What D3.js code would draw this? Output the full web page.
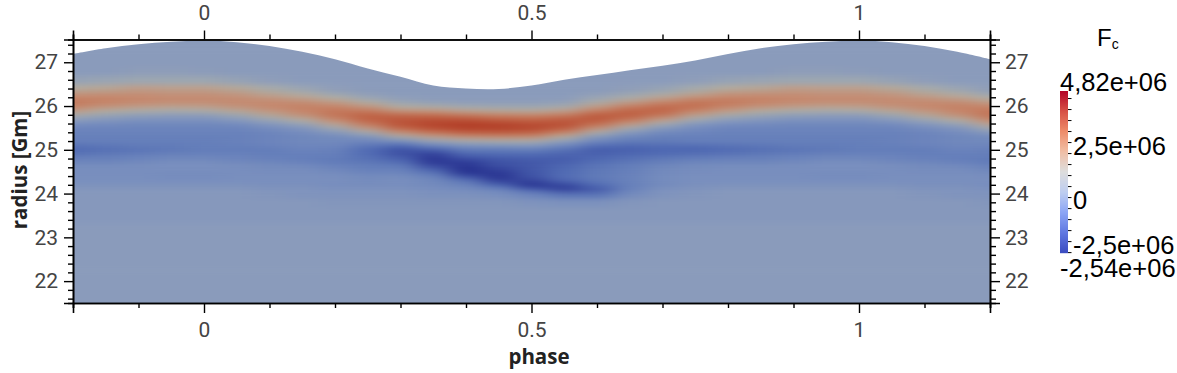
<!DOCTYPE html>
<html>
<head>
<meta charset="utf-8">
<script src="https://cdnjs.cloudflare.com/ajax/libs/d3/7.8.5/d3.min.js"></script>
<style>
    body { margin: 0; background: #fff; }
    svg { display: block; }
    .ticklabels text { font-family: Roboto, sans-serif; font-size: 21px; fill: #444; }
    .title { font-family: "Open Sans", sans-serif; font-size: 20.5px; font-weight: bold; fill: #222; }
    .cblabel { font-family: "Liberation Sans", sans-serif; font-size: 25.5px; fill: #000; }
</style>
</head>
<body>
<div id="chart"></div>
<script>
//phases of the folded data, one period
const phases = [0,0.05,0.1,0.15,0.2,0.25,0.3,0.35,0.4,0.45,0.5,0.55,0.6,0.65,0.7,0.75,0.8,0.85,0.9,0.95];

//outer radius of the star at each phase [Gm]
const surface = [27.49,27.46,27.37,27.24,27.07,26.86,26.67,26.47,26.40,26.39,26.47,26.60,26.71,26.82,26.92,27.04,27.19,27.32,27.41,27.47];

//radius of each row of the Fc table [Gm]
const radii = [21.5,23.0,23.6,23.8,24.0,24.1,24.2,24.3,24.4,24.5,24.6,24.7,24.8,24.9,25.0,25.1,25.2,25.3,25.4,25.5,25.6,25.7,25.8,25.9,26.0,26.1,26.2,26.3,26.4,26.6,26.8,27.0,27.6];

//Fc in units of 1e6, one list per phase, rows follow radii
const fc = [
    [0,0,-0.1,-0.1,-0.1,-0.2,-0.3,-0.5,-0.6,-0.5,-0.5,-0.5,-0.7,-0.9,-1.0,-1.0,-1.0,-0.9,-0.9,-0.8,-0.7,-0.4,0.1,0.9,1.7,2.3,2.4,2.1,1.6,0.5,0.05,0,0],
    [0,0,-0.1,-0.1,-0.1,-0.2,-0.3,-0.5,-0.5,-0.5,-0.5,-0.6,-0.8,-0.9,-1.0,-1.0,-0.9,-0.9,-0.9,-0.8,-0.6,-0.1,0.5,1.4,2.1,2.4,2.3,1.9,1.3,0.3,0,0,0],
    [0,0,-0.1,-0.1,-0.2,-0.3,-0.4,-0.5,-0.5,-0.5,-0.6,-0.7,-0.9,-1.0,-1.0,-0.9,-0.8,-0.8,-0.8,-0.6,-0.2,0.4,1.3,2.0,2.5,2.4,2.0,1.4,0.8,0.1,0,0,0],
    [0,0,-0.1,-0.1,-0.3,-0.3,-0.4,-0.5,-0.5,-0.5,-0.6,-0.8,-1.0,-1.0,-0.8,-0.8,-0.7,-0.7,-0.6,-0.3,0.3,1.2,2.1,2.6,2.7,2.3,1.6,1.0,0.4,0,0,0,0],
    [0,0,-0.1,-0.2,-0.3,-0.4,-0.5,-0.5,-0.5,-0.6,-0.8,-1.0,-1.1,-1.0,-0.9,-0.8,-0.7,-0.6,-0.2,0.5,1.5,2.5,3.0,3.0,2.6,1.8,1.1,0.4,0.1,0,0,0,0],
    [0,0,-0.1,-0.2,-0.3,-0.4,-0.5,-0.6,-0.6,-0.8,-1.0,-1.1,-1.3,-1.4,-1.4,-1.2,-0.8,-0.3,0.6,1.9,2.9,3.6,3.5,2.9,2.0,1.1,0.4,0.1,0,0,0,0,0],
    [0,0,-0.1,-0.2,-0.3,-0.4,-0.5,-0.5,-0.6,-0.8,-1.0,-1.3,-1.6,-1.9,-1.9,-1.5,-0.6,0.7,2.1,3.4,4.1,4.0,3.3,2.1,1.1,0.4,0.1,0,0,0,0,0,0],
    [0,0,-0.1,-0.2,-0.4,-0.5,-0.6,-0.7,-0.9,-1.3,-1.8,-2.3,-2.4,-2.3,-1.7,-0.9,0.2,1.5,3.0,4.2,4.6,4.2,3.2,2.0,0.9,0.2,0,0,0,0,0,0,0],
    [0,0,-0.1,-0.2,-0.4,-0.6,-0.8,-1.2,-1.9,-2.5,-2.5,-2.4,-2.0,-1.6,-1.1,-0.5,0.6,2.0,3.6,4.6,4.8,4.1,2.9,1.6,0.6,0.1,0,0,0,0,0,0,0],
    [0,0,-0.1,-0.2,-0.5,-0.8,-1.5,-2.2,-2.5,-2.3,-2.1,-1.9,-1.8,-1.5,-1.1,-0.4,0.7,2.2,3.7,4.6,4.6,3.7,2.6,1.4,0.5,0.1,0,0,0,0,0,0,0],
    [0,0,-0.1,-0.3,-0.8,-1.6,-2.4,-2.2,-1.9,-1.8,-1.8,-1.8,-1.7,-1.5,-1.0,-0.3,0.7,2.1,3.5,4.4,4.3,3.5,2.5,1.3,0.5,0.1,0,0,0,0,0,0,0],
    [0,0,-0.1,-0.4,-1.2,-2.2,-2.1,-1.6,-1.4,-1.4,-1.5,-1.6,-1.7,-1.6,-1.3,-0.8,0,1.1,2.5,3.7,4.2,3.8,2.8,1.7,0.7,0.2,0,0,0,0,0,0,0],
    [0,0,-0.1,-0.4,-1.2,-1.8,-1.4,-1.2,-1.1,-1.1,-1.2,-1.3,-1.5,-1.6,-1.7,-1.4,-0.8,-0.2,0.8,2.1,3.2,3.9,3.7,2.8,1.8,0.9,0.4,0.1,0,0,0,0,0],
    [0,0,-0.1,-0.2,-0.6,-0.9,-0.9,-0.9,-0.9,-0.9,-1.0,-1.1,-1.3,-1.5,-1.6,-1.5,-1.1,-0.7,-0.2,0.6,1.9,3.0,3.6,3.5,2.8,1.7,0.9,0.4,0.1,0,0,0,0],
    [0,0,-0.1,-0.1,-0.3,-0.4,-0.6,-0.6,-0.6,-0.6,-0.7,-0.9,-1.1,-1.4,-1.5,-1.4,-1.1,-0.9,-0.7,-0.2,0.6,1.8,2.9,3.5,3.3,2.5,1.6,0.8,0.3,0,0,0,0],
    [0,0,-0.1,-0.1,-0.2,-0.3,-0.4,-0.5,-0.5,-0.5,-0.6,-0.7,-1.0,-1.3,-1.5,-1.4,-1.0,-0.9,-0.8,-0.6,-0.2,0.6,1.6,2.6,3.2,3.0,2.3,1.4,0.7,0.1,0,0,0],
    [0,0,-0.1,-0.1,-0.1,-0.2,-0.3,-0.5,-0.5,-0.5,-0.5,-0.7,-0.9,-1.2,-1.4,-1.3,-1.0,-0.9,-0.9,-0.8,-0.5,0,0.8,1.8,2.6,2.9,2.6,2.0,1.2,0.3,0,0,0],
    [0,0,-0.1,-0.1,-0.1,-0.2,-0.3,-0.5,-0.5,-0.5,-0.5,-0.7,-0.9,-1.1,-1.3,-1.2,-1.0,-0.9,-0.9,-0.8,-0.6,-0.2,0.4,1.2,2.1,2.6,2.6,2.1,1.4,0.4,0,0,0],
    [0,0,-0.1,-0.1,-0.1,-0.2,-0.3,-0.5,-0.5,-0.5,-0.5,-0.6,-0.8,-1.0,-1.2,-1.1,-1.0,-0.9,-0.9,-0.8,-0.7,-0.4,0.2,0.9,1.8,2.4,2.5,2.2,1.7,0.5,0.1,0,0],
    [0,0,-0.1,-0.1,-0.1,-0.2,-0.3,-0.5,-0.6,-0.5,-0.5,-0.5,-0.7,-0.9,-1.1,-1.1,-1.0,-0.9,-0.9,-0.8,-0.7,-0.4,0.1,0.8,1.6,2.3,2.4,2.1,1.6,0.5,0.1,0,0]
];

//tick values
const phaseMajor = [0,0.5,1];
const phaseMinor = [-0.2,-0.1,0.1,0.2,0.3,0.4,0.6,0.7,0.8,0.9,1.1,1.2];
const radiusMajor = [22,23,24,25,26,27];
const radiusMinor = [21.6,21.8,22.2,22.4,22.6,22.8,23.2,23.4,23.6,23.8,24.2,24.4,24.6,24.8,25.2,25.4,25.6,25.8,26.2,26.4,26.6,26.8,27.2,27.4];
const fcTicks = [-2.5,-2,-1.5,-1,-0.5,0,0.5,1,1.5,2,2.5,3,3.5,4,4.5];

//legend range and labels
const fcMin = -2.54;
const fcMax = 4.82;
const cbLabels = ["4,82e+06","2,5e+06","0","-2,5e+06","-2,54e+06"];

//colors of the shaded surface
const fieldValues = [-2.54,-2,-1.5,-1,-0.5,0,0.6,1.1,1.8,2.5,3.5,4.82];
const fieldColors = ["#26308f","#3a4ca2","#4e68b2","#647eba","#788ebe","#8a9bbb","#a0a8af","#afaca2","#be9b87","#c5876c","#c06446","#b23c26"];

//colors of the legend bar (cool to warm)
const barValues = [-2.54,-1.62,-0.7,0.22,1.14,2.06,2.98,3.9,4.82];
const barColors = ["#3b4cc0","#6078e1","#8ca5f5","#becdf0","#dddddd","#f0bea5","#ee8c69","#d75046","#b40426"];

var svg = d3.select("#chart").append("svg")
    .attr("width", 1177)
    .attr("height", 373);

//scales
var x = d3.scaleLinear().domain([-0.2, 1.2]).range([73, 990]);
var y = d3.scaleLinear().domain([21.5, 27.52]).range([303, 39.5]);
var color = d3.scaleLinear().domain(fieldValues).range(fieldColors).clamp(true);

var cbY = d3.scaleLinear().domain([fcMin, fcMax]).range([253, 91]);
var cbColor = d3.scaleLinear().domain(barValues).range(barColors);

//repeat the folded data over the whole phase range
var cells = [];
var outline = [];
[-1, 0, 1].forEach(function(k) {
    phases.forEach(function(p, i) {
        var ph = p + k;
        if (ph >= -0.2 && ph <= 1.2) {
            outline.push({ phase: ph, radius: surface[i] });
        }
        if (ph < -0.4 || ph > 1.4) {
            return;
        }
        radii.forEach(function(r, j) {
            var r0 = j == 0 ? 20.5 : (radii[j - 1] + r) / 2;
            var r1 = j == radii.length - 1 ? 28.5 : (radii[j + 1] + r) / 2;
            cells.push({ p0: ph - 0.025, p1: ph + 0.025, r0: r0, r1: r1, value: fc[i][j] });
        });
    });
});
outline.sort(function(a, b) { return a.phase - b.phase; });

//the star only reaches up to its surface, so clip to it
var area = d3.area()
    .x(function(d) { return x(d.phase); })
    .y0(y(21.5))
    .y1(function(d) { return y(d.radius); })
    .curve(d3.curveCatmullRom);

var defs = svg.append("defs");
defs.append("clipPath")
    .attr("id", "starclip")
    .append("path")
    .attr("d", area(outline));

//smooth shading of the cells
var smooth = defs.append("filter")
    .attr("id", "smooth")
    .attr("filterUnits", "userSpaceOnUse")
    .attr("x", -100).attr("y", -50)
    .attr("width", 1400).attr("height", 500)
    .attr("color-interpolation-filters", "sRGB");
smooth.append("feGaussianBlur")
    .attr("stdDeviation", "11 2.8");

svg.append("g")
    .attr("clip-path", "url(#starclip)")
    .append("g")
    .attr("filter", "url(#smooth)")
    .selectAll("rect")
    .data(cells)
    .enter()
    .append("rect")
        .attr("x", function(d) { return x(d.p0); })
        .attr("width", function(d) { return x(d.p1) - x(d.p0) + 0.5; })
        .attr("y", function(d) { return y(d.r1); })
        .attr("height", function(d) { return y(d.r0) - y(d.r1) + 0.5; })
        .style("fill", function(d) { return color(d.value); });

//draws one axis, the major ticks carry the labels
function drawAxis(axisFn, scale, major, minor, translate, bigTick, smallTick, padding) {
    var g = svg.append("g").attr("transform", translate);
    g.append("g")
        .attr("class", "ticklabels")
        .call(axisFn(scale).tickValues(major).tickSize(bigTick).tickPadding(padding).tickFormat(d3.format("")));
    g.append("g")
        .call(axisFn(scale).tickValues(minor).tickSize(smallTick).tickFormat(""));
    g.selectAll("path").attr("stroke", "#000").attr("stroke-width", 1.6);
    g.selectAll("line").attr("stroke", "#000").attr("stroke-width", 1.4);
}

drawAxis(d3.axisLeft, y, radiusMajor, radiusMinor, "translate(73,0)", 9, 5, 6);
drawAxis(d3.axisRight, y, radiusMajor, radiusMinor, "translate(990,0)", 10, 6, 5);
drawAxis(d3.axisTop, x, phaseMajor, phaseMinor, "translate(0,39.5)", 9, 5, 10.5);
drawAxis(d3.axisBottom, x, phaseMajor, phaseMinor, "translate(0,303)", 10, 5, 9);

//axis titles
svg.append("text")
    .attr("class", "title")
    .attr("text-anchor", "middle")
    .attr("x", 539)
    .attr("y", 364)
    .text("phase");

svg.append("text")
    .attr("class", "title")
    .attr("text-anchor", "middle")
    .attr("transform", "translate(27,170) rotate(-90)")
    .text("radius [Gm]");

//legend bar
svg.append("g")
    .selectAll("rect")
    .data(d3.range(91, 253))
    .enter()
    .append("rect")
        .attr("x", 1060)
        .attr("y", function(d) { return d; })
        .attr("width", 8)
        .attr("height", 1.2)
        .style("fill", function(d) { return cbColor(cbY.invert(d + 0.5)); });

var cbAxis = svg.append("g")
    .attr("transform", "translate(1068,0)")
    .call(d3.axisRight(cbY).tickValues(fcTicks).tickSize(3.5).tickFormat(""));
cbAxis.select("path").remove();
cbAxis.selectAll("line").attr("stroke", "#000");

//legend labels sit a little off their ticks, like in the original
svg.append("text").attr("class", "cblabel").attr("x", 1060).attr("y", cbY(fcMax)).text(cbLabels[0]);
svg.append("text").attr("class", "cblabel").attr("x", 1073).attr("y", cbY(2.5) + 13).text(cbLabels[1]);
svg.append("text").attr("class", "cblabel").attr("x", 1073).attr("y", cbY(0) + 12).text(cbLabels[2]);
svg.append("text").attr("class", "cblabel").attr("x", 1073).attr("y", cbY(-2.5) + 2).text(cbLabels[3]);
svg.append("text").attr("class", "cblabel").attr("x", 1060).attr("y", cbY(fcMin) + 24).text(cbLabels[4]);

//legend title
var fcTitle = svg.append("text")
    .attr("class", "cblabel")
    .attr("x", 1097)
    .attr("y", 46)
    .style("font-size", "24px")
    .text("F");
fcTitle.append("tspan")
    .attr("dy", 3)
    .style("font-size", "14px")
    .text("c");
</script>
</body>
</html>
